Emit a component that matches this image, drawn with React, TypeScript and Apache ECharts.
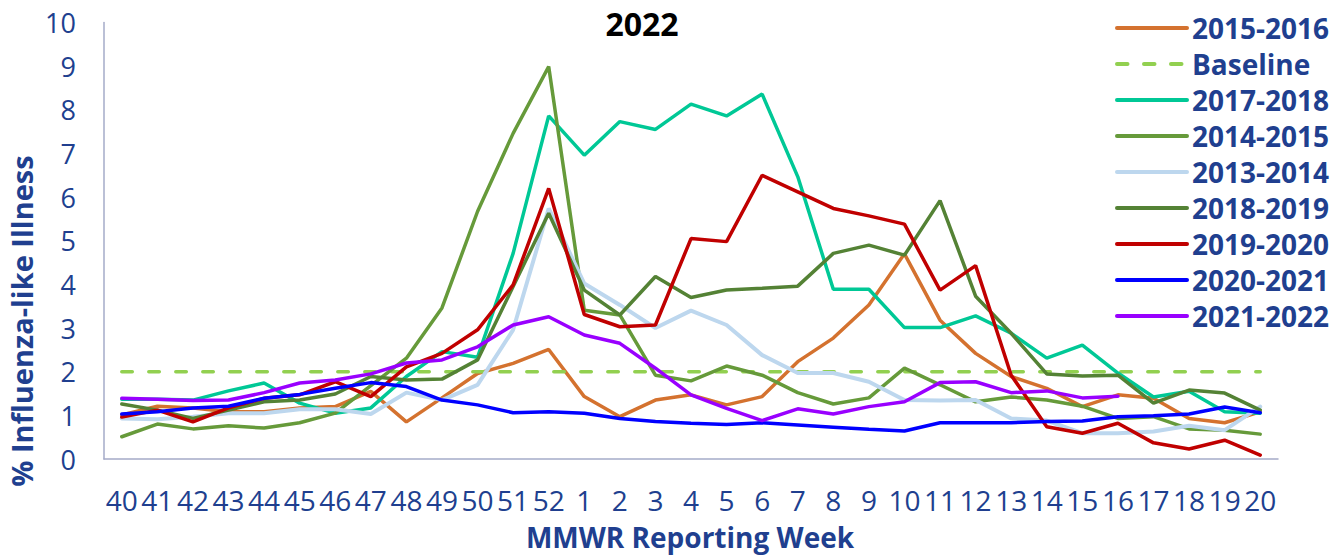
import React, { useEffect, useRef } from "react";
import * as echarts from "echarts";

const weeks = ["40","41","42","43","44","45","46","47","48","49","50","51","52","1","2","3","4","5","6","7","8","9","10","11","12","13","14","15","16","17","18","19","20"];
const yTicks = [0, 10, 1];

const s2015_16 = [1.01,1.21,1.17,1.08,1.08,1.17,1.2,1.55,0.85,1.4,1.96,2.19,2.51,1.43,0.97,1.35,1.47,1.24,1.43,2.23,2.77,3.53,4.7,3.18,2.42,1.89,1.62,1.2,1.47,1.39,0.93,0.83,1.08];
const baseline = [2,2,2,2,2,2,2,2,2,2,2,2,2,2,2,2,2,2,2,2,2,2,2,2,2,2,2,2,2,2,2,2,2];
const s2017_18 = [1.37,1.37,1.35,1.56,1.74,1.28,1.05,1.17,1.89,2.46,2.33,4.71,7.86,6.96,7.73,7.55,8.13,7.86,8.36,6.47,3.89,3.89,3.01,3.01,3.28,2.88,2.31,2.61,1.97,1.42,1.55,1.08,1.05];
const s2014_15 = [0.51,0.8,0.69,0.76,0.71,0.83,1.05,1.68,2.31,3.46,5.67,7.46,8.99,3.41,3.3,1.92,1.79,2.13,1.92,1.52,1.26,1.4,2.08,1.7,1.31,1.42,1.35,1.21,0.93,0.97,0.69,0.66,0.57];
const s2013_14 = [0.93,0.91,0.97,1.05,1.05,1.14,1.14,1.03,1.52,1.35,1.7,2.96,5.74,4.02,3.53,3.0,3.4,3.07,2.38,1.97,1.97,1.77,1.35,1.34,1.35,0.93,0.88,0.59,0.59,0.63,0.76,0.66,1.2];
const s2018_19 = [1.26,1.12,0.93,1.12,1.31,1.35,1.49,1.89,1.81,1.83,2.27,3.95,5.63,3.87,3.3,4.18,3.7,3.87,3.91,3.96,4.71,4.9,4.67,5.92,3.73,2.88,1.95,1.9,1.92,1.28,1.58,1.51,1.12];
const s2019_20 = [0.96,1.12,0.85,1.17,1.39,1.47,1.77,1.43,2.11,2.42,2.96,3.99,6.2,3.31,3.03,3.07,5.05,4.98,6.5,6.12,5.74,5.57,5.38,3.87,4.43,1.92,0.74,0.59,0.82,0.37,0.23,0.43,0.09];
const s2020_21 = [1.03,1.08,1.17,1.21,1.39,1.48,1.62,1.75,1.66,1.35,1.24,1.06,1.08,1.05,0.93,0.86,0.82,0.79,0.83,0.78,0.73,0.68,0.64,0.83,0.83,0.83,0.86,0.87,0.97,0.99,1.03,1.19,1.06];
const s2021_22 = [1.39,1.37,1.34,1.35,1.52,1.74,1.81,1.95,2.2,2.27,2.57,3.07,3.26,2.84,2.65,2.08,1.47,1.16,0.88,1.15,1.03,1.2,1.31,1.75,1.77,1.52,1.56,1.4,1.44,null,null,null,null];

const seriesNames = ["2015-2016","Baseline","2017-2018","2014-2015","2013-2014","2018-2019","2019-2020","2020-2021","2021-2022"];
const seriesData = [s2015_16, baseline, s2017_18, s2014_15, s2013_14, s2018_19, s2019_20, s2020_21, s2021_22];
const seriesColors = ["#D4722F","#92D050","#00C896","#669A3A","#BDD7EE","#548235","#C00000","#0000FF","#9900FF"];

const BLUE = "#203F8F";
const FONT = "'Open Sans', 'Noto Sans', sans-serif";

export default function App() {
  const ref = useRef<HTMLDivElement>(null);
  useEffect(() => {
    if (!ref.current) return;
    const chart = echarts.init(ref.current, undefined, { renderer: "svg" });
    const series = seriesNames.map((name, i) => ({
      name,
      type: "line",
      data: seriesData[i],
      symbol: "none",
      connectNulls: false,
      lineStyle: {
        color: seriesColors[i],
        width: name === "2013-2014" ? 4 : 3.5,
        type: name === "Baseline" ? [10.5, 16.5] : "solid",
        cap: "round",
      },
      itemStyle: { color: seriesColors[i] },
      emphasis: { disabled: true },
    }));
    chart.setOption({
      animation: false,
      backgroundColor: "#ffffff",
      title: {
        text: "2022",
        left: 637,
        top: 2,
        textAlign: "center",
        textStyle: { fontFamily: FONT, fontWeight: "bold", fontSize: 32, color: "#000000" },
      },
      legend: {
        orient: "vertical",
        left: 1115,
        top: 14,
        padding: 0,
        itemWidth: 70,
        itemHeight: 14,
        itemGap: 8,
        data: seriesNames,
        itemStyle: { opacity: 0 },
        lineStyle: { width: 4 },
        textStyle: { fontFamily: FONT, fontWeight: "bold", fontSize: 28, lineHeight: 28, color: BLUE },
      },
      grid: { left: 104, right: 64, top: 22.5, bottom: 96, containLabel: false },
      xAxis: {
        type: "category",
        data: weeks,
        boundaryGap: true,
        axisLine: { show: true, lineStyle: { color: "#A5ABC8", width: 1.5 } },
        axisTick: { show: false },
        axisLabel: { interval: 0, margin: 27, fontFamily: FONT, fontSize: 28, lineHeight: 28, color: BLUE },
        splitLine: { show: false },
      },
      yAxis: {
        type: "value",
        min: yTicks[0],
        max: yTicks[1],
        interval: yTicks[2],
        axisLine: { show: true, lineStyle: { color: "#A5ABC8", width: 1.5 } },
        axisTick: { show: false },
        splitLine: { show: false },
        axisLabel: { margin: 28, fontFamily: FONT, fontSize: 27, color: BLUE },
      },
      graphic: [
        {
          type: "text",
          x: 21,
          y: 321,
          rotation: Math.PI / 2,
          style: {
            text: "% Influenza-like Illness",
            fontFamily: FONT,
            fontWeight: "bold",
            fontSize: 29,
            fill: BLUE,
            textAlign: "center",
            textVerticalAlign: "middle",
          },
        },
        {
          type: "text",
          x: 690,
          y: 537,
          style: {
            text: "MMWR Reporting Week",
            fontFamily: FONT,
            fontWeight: "bold",
            fontSize: 28,
            lineHeight: 28,
            fill: BLUE,
            textAlign: "center",
            textVerticalAlign: "middle",
          },
        },
      ],
      series,
    });
    return () => chart.dispose();
  }, []);
  return (
    <div
      ref={ref}
      style={{ position: "fixed", left: 0, top: 0, width: 1342, height: 555 }}
    />
  );
}
